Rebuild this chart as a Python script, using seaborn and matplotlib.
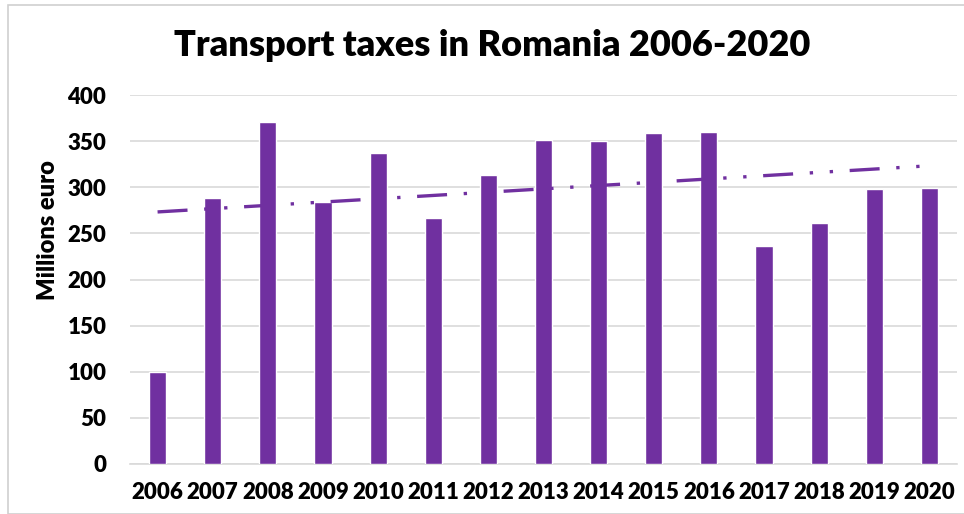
import numpy as np
import pandas as pd
import matplotlib
matplotlib.use("Agg")
import matplotlib.pyplot as plt
import seaborn as sns
from matplotlib.patches import Rectangle

years = ["2006", "2007", "2008", "2009", "2010", "2011", "2012", "2013",
         "2014", "2015", "2016", "2017", "2018", "2019", "2020"]
taxes = [100, 288, 371, 284, 337, 267, 313, 351, 350, 359, 360, 236, 261, 298, 299]
y_ticks = [0, 50, 100, 150, 200, 250, 300, 350, 400]

title = "Transport taxes in Romania 2006-2020"
ylabel = "Millions euro"
purple = "#7030A0"

sns.set_theme(style="white")
plt.rcParams['font.family'] = ['Lato', 'DejaVu Sans']
plt.rcParams['text.color'] = 'black'
plt.rcParams['axes.labelcolor'] = 'black'

df = pd.DataFrame({"year": years, "value": taxes})

fig = plt.figure(figsize=(9.64, 5.14), dpi=100)
ax = fig.add_axes([130 / 964, 50 / 514, 827 / 964, 369 / 514])

sns.barplot(data=df, x="year", y="value", color=purple, saturation=1,
            width=0.31, ax=ax, zorder=3)

# linear trend line
xs = np.arange(len(years))
coef = np.polyfit(xs, taxes, 1)
ax.plot(xs, np.polyval(coef, xs), color=purple, lw=2.4,
        dashes=[9, 5, 1, 5, 1, 5], zorder=4)

ax.set_xlim(-0.5, len(years) - 0.5)
ax.set_ylim(0, 400)
ax.set_yticks(y_ticks)
ax.yaxis.grid(True, color="#d9d9d9", lw=1.2, zorder=0)
ax.set_axisbelow(True)
for s in ["top", "right", "left"]:
    ax.spines[s].set_visible(False)
ax.spines["bottom"].set_color("#d9d9d9")
ax.spines["bottom"].set_linewidth(1.2)

ax.tick_params(axis="both", length=0, labelsize=16, colors="black")
ax.tick_params(axis="x", pad=13)
ax.tick_params(axis="y", pad=17)
for lab in ax.get_xticklabels() + ax.get_yticklabels():
    lab.set_fontweight("heavy")

ax.set_xlabel("")
ax.set_ylabel(ylabel, fontsize=17, fontweight="heavy", va="center")
ax.yaxis.set_label_coords(-82 / 827, (464 - 230) / 369)

fig.text(492 / 964, 1 - 45 / 514, title, ha="center", va="center",
         fontsize=26, fontweight="heavy")

# outer frame
fig.patches.append(Rectangle((8 / 964, 0), 1.1, 1 - 5 / 514, transform=fig.transFigure,
                             fill=False, edgecolor="#d0d0d0", lw=1.2))

fig.savefig("out.png", dpi=100)
